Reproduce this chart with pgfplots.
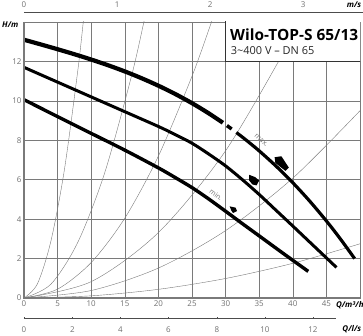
\documentclass[border=0pt]{standalone}
\usepackage{pgfplots}
\pgfplotsset{compat=1.18}
\usepackage{fontspec}
\setmainfont{Open Sans}
\definecolor{gridc}{HTML}{7A7A7A}
\definecolor{tickc}{HTML}{707070}
\newcommand{\toptick}[2]{%
  \draw[black!70, line width=0.7bp] ([yshift=10bp]axis cs:#2,14) -- ([yshift=8.5bp]axis cs:#2,14);
  \node[text=tickc, font=\fontsize{8}{9}\selectfont, inner sep=0pt] at ([yshift=17bp]axis cs:#2,14) {#1};}
\newcommand{\bottick}[2]{%
  \draw[black!70, line width=0.7bp] ([yshift=-20bp]axis cs:#2,0) -- ([yshift=-18.5bp]axis cs:#2,0);
  \node[text=tickc, font=\fontsize{8}{9}\selectfont, inner sep=0pt] at ([yshift=-32bp]axis cs:#2,0) {#1};}
\begin{document}
\begin{tikzpicture}
\begin{axis}[
  scale only axis, width=336bp, height=276bp,
  xmin=0, xmax=50, ymin=0, ymax=14,
  xtick={0,5,...,45}, ytick={0,2,...,12},
  grid=major,
  major grid style={gridc, line width=0.5bp},
  tick style={draw=none},
  axis line style={gridc, line width=0.6bp},
  tick label style={font=\fontsize{8}{9}\selectfont, text=tickc},
  /pgf/number format/assume math mode=true,
  xticklabel style={yshift=1bp},
  yticklabel style={xshift=1bp},
  clip mode=individual,
]
% system curves
\addplot[gridc, line width=0.4bp, smooth] coordinates {(0,0) (2,0.72) (4,2.88) (6,6.48) (8,11.52) (8.82,14.0) (9.2,15.2)};
\addplot[gridc, line width=0.4bp, smooth] coordinates {(0,0) (4,0.70) (8,2.82) (12,6.34) (16,11.26) (17.84,14.0) (18.5,15.0)};
\addplot[gridc, line width=0.4bp, smooth] coordinates {(0,0) (5,0.45) (10,1.8) (15,4.05) (20,7.2) (25,11.25) (27.9,14.0) (28.5,14.6)};
\addplot[gridc, line width=0.4bp, smooth] coordinates {(0,0) (10,0.83) (20,3.32) (30,7.47) (40,13.28) (41.07,14.0) (42,14.6)};
\addplot[gridc, line width=0.4bp, smooth] coordinates {(0,0) (10,0.38) (20,1.52) (30,3.42) (40,6.08) (50,9.5)};
\addplot[gridc, line width=0.4bp, smooth] coordinates {(0,0) (10,0.11) (20,0.44) (30,0.99) (40,1.76) (50,2.75)};
% title box
\addplot[fill=white, draw=black!80, line width=0.5bp] coordinates {(30,14.2) (30,12) (50.2,12) (50.2,14.2)} -- cycle;
% pump curves
\addplot[black, line width=4.2bp, smooth] coordinates {(0,13.1) (2.5,12.862) (5,12.618) (7.5,12.365) (10,12.096) (12.5,11.807) (15,11.493) (17.5,11.148) (20,10.768) (22.5,10.348) (25,9.882) (27.5,9.365) (29.6,8.889)};
\addplot[black, line width=3.5bp] coordinates {(30.2,8.745) (30.9,8.573)};
\addplot[black, line width=3.2bp, smooth] coordinates {(31.6,8.395) (33,8.026) (35,7.462) (37.5,6.692) (40,5.847) (42.5,4.92) (45,3.908) (47,3.033) (49.2,2.0)};
\addplot[black, line width=3bp, smooth] coordinates {(0,11.7) (5,10.95) (10,10.2) (15,9.45) (20,8.7) (22.5,8.29) (25,7.85) (27.5,7.3) (30,6.7) (32.5,6.0) (35,5.25) (37.5,4.45) (40,3.65) (43,2.68) (46.5,1.55)};
\addplot[black, line width=3.4bp, smooth] coordinates {(0,10.06) (5,9.2) (10,8.35) (15,7.5) (20,6.6) (22.5,6.11) (25,5.6) (27.5,5.02) (30,4.4) (32.5,3.77) (35,3.15) (38.5,2.28) (42.3,1.35)};
% markers
\addplot[fill=black, draw=none] coordinates {(37.3,7.14) (38.3,7.19) (39.4,6.62) (38.9,6.45) (37.4,6.85)} -- cycle;
\addplot[fill=black, draw=none] coordinates {(33.5,6.25) (34.4,6.13) (35.0,5.96) (34.6,5.71) (34.0,5.76) (33.5,5.96)} -- cycle;
\addplot[fill=black, draw=none] coordinates {(30.6,4.65) (31.5,4.58) (31.7,4.41) (31.1,4.31) (30.85,4.44)} -- cycle;
% labels on curves
\node[rotate=-42, text=tickc, font=\fontsize{7}{8}\selectfont, inner sep=0pt] at (axis cs:35.3,8.0) {max.};
\node[rotate=-38, text=tickc, font=\fontsize{7}{8}\selectfont, inner sep=0pt] at (axis cs:28.6,5.25) {min.};
% title text
\node[anchor=base west, font=\fontsize{15.5}{17}\bfseries\selectfont, inner sep=0pt] at (axis cs:30.65,13.05) {Wilo-TOP-S 65/13};
\node[anchor=base west, font=\fontsize{11}{13}\selectfont, text=black!85, inner sep=0pt] at (axis cs:30.75,12.35) {3\textasciitilde400 V – DN 65};
% axis labels
\node[anchor=west, font=\fontsize{8}{9}\itshape\selectfont, inner sep=0pt] at ([xshift=-22bp]axis cs:0,13.85) {\textbf{H/m}};
\node[anchor=west, font=\fontsize{8}{9}\itshape\selectfont, inner sep=0pt] at ([yshift=-7bp]axis cs:46.4,0) {\textbf{Q/m³/h}};
% extra thick left/bottom
\draw[gridc, line width=1.6bp] (axis cs:0,14) -- (axis cs:0,0) -- (axis cs:50,0);
% top m/s axis
\draw[black!70, line width=0.7bp] ([yshift=10bp]axis cs:0,14) -- ([yshift=10bp]axis cs:50.5,14);
\toptick{0}{0}\toptick{1}{13.85}\toptick{2}{27.7}\toptick{3}{41.55}
\node[anchor=east, font=\fontsize{8}{9}\itshape\selectfont, inner sep=0pt] at ([yshift=17bp]axis cs:50.2,14) {\textbf{m/s}};
% bottom l/s axis
\draw[black!70, line width=0.7bp] ([yshift=-20bp]axis cs:0,0) -- ([yshift=-20bp]axis cs:46.4,0);
\bottick{0}{0}\bottick{2}{7.2}\bottick{4}{14.35}\bottick{6}{21.5}\bottick{8}{28.7}\bottick{10}{35.85}\bottick{12}{43.0}
\node[anchor=east, font=\fontsize{8}{9}\itshape\selectfont, inner sep=0pt] at ([yshift=-31bp]axis cs:50.2,0) {\textbf{Q/l/s}};
\end{axis}
\pgfresetboundingbox
\path[use as bounding box] (-24bp,-38bp) rectangle (339bp,298bp);
\end{tikzpicture}
\end{document}
